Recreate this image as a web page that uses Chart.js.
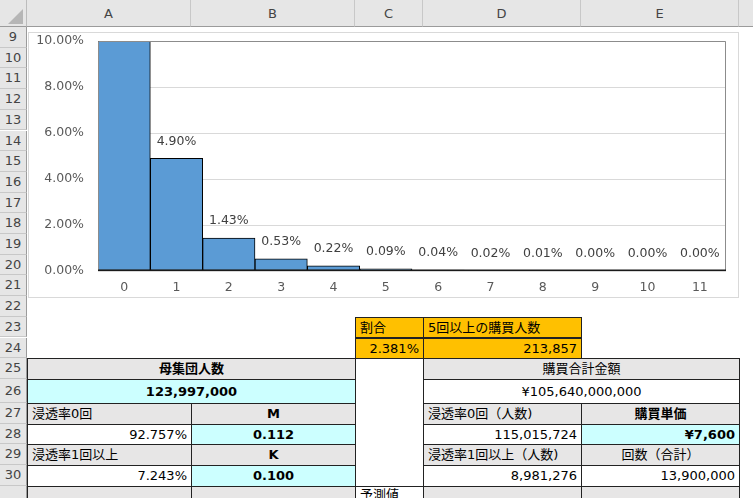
<!DOCTYPE html>
<html>
<head>
<meta charset="utf-8">
<script src="https://cdn.jsdelivr.net/npm/chart.js@4"></script>
<style>
body { margin:0; width:753px; height:498px; overflow:hidden; background:#fff;
       font-family:"DejaVu Sans","Noto Sans CJK JP",sans-serif; font-size:13px; color:#000; }
.c { position:absolute; box-sizing:border-box; white-space:nowrap; overflow:hidden; padding:0 4px; }
.hd { position:absolute; box-sizing:border-box; background:#e6e6e6; color:#444; text-align:center; font-size:13px; }
#chartBox { position:absolute; left:28px; top:32px; width:711px; height:266px; border:1px solid #d9d9d9; box-sizing:border-box; background:#fff; }
</style>
</head>
<body>
<div id="sheet"></div>
<div id="chartBox"><canvas id="chart" width="709" height="264"></canvas></div>
<script>
// chart data
var categories = ['0', '1', '2', '3', '4', '5', '6', '7', '8', '9', '10', '11']
var shares = [0.92757, 0.0490, 0.0143, 0.0053, 0.0022, 0.0009, 0.0004, 0.0002, 0.0001, 0.00004, 0.00002, 0.00001]
var yTicks = [0, 0.02, 0.04, 0.06, 0.08, 0.10]

// sheet layout
var colX = { A: 27, B: 191, C: 355, D: 423, E: 581, F: 739 }
var colLetters = ['A', 'B', 'C', 'D', 'E']
var firstRow = 9
var rowH = [20.7, 20.7, 20.7, 20.7, 20.7, 20.7, 20.7, 20.7, 20.7, 20.7, 20.7, 20.7, 20.7, 20.7, 20.7, 20.7, 20.7, 24, 20.7, 20.7, 20.7, 20.7, 40]
var grey = '#e7e6e6', cyan = '#ccffff', orange = '#ffc000'

// [fromCol, fromRow, toCol, toRow, text, align, fill, bold]
var cells = [
    ['C', 23, 'C', 23, '割合', 'left', orange],
    ['D', 23, 'D', 23, '5回以上の購買人数', 'left', orange],
    ['C', 24, 'C', 24, '2.381%', 'right', orange],
    ['D', 24, 'D', 24, '213,857', 'right', orange],
    ['A', 25, 'B', 25, '母集団人数', 'center', grey, true],
    ['C', 25, 'C', 30, '', 'center', '#fff'],
    ['D', 25, 'E', 25, '購買合計金額', 'center', grey],
    ['A', 26, 'B', 26, '123,997,000', 'center', cyan, true],
    ['D', 26, 'E', 26, '¥105,640,000,000', 'center', '#fff'],
    ['A', 27, 'A', 27, '浸透率0回', 'left', grey],
    ['B', 27, 'B', 27, 'M', 'center', grey, true],
    ['D', 27, 'D', 27, '浸透率0回（人数)', 'left', grey],
    ['E', 27, 'E', 27, '購買単価', 'center', grey, true],
    ['A', 28, 'A', 28, '92.757%', 'right', '#fff'],
    ['B', 28, 'B', 28, '0.112', 'center', cyan, true],
    ['D', 28, 'D', 28, '115,015,724', 'right', '#fff'],
    ['E', 28, 'E', 28, '¥7,600', 'right', cyan, true],
    ['A', 29, 'A', 29, '浸透率1回以上', 'left', grey],
    ['B', 29, 'B', 29, 'K', 'center', grey, true],
    ['D', 29, 'D', 29, '浸透率1回以上（人数)', 'left', grey],
    ['E', 29, 'E', 29, '回数（合計）', 'center', grey],
    ['A', 30, 'A', 30, '7.243%', 'right', '#fff'],
    ['B', 30, 'B', 30, '0.100', 'center', cyan, true],
    ['D', 30, 'D', 30, '8,981,276', 'right', '#fff'],
    ['E', 30, 'E', 30, '13,900,000', 'right', '#fff'],
    ['A', 31, 'A', 31, '', 'left', grey],
    ['B', 31, 'B', 31, '', 'left', grey],
    ['C', 31, 'C', 31, '予測値', 'left', '#fff'],
    ['D', 31, 'D', 31, '', 'left', grey],
    ['E', 31, 'E', 31, '', 'left', grey]
]

var nextCol = { A: 'B', B: 'C', C: 'D', D: 'E', E: 'F' }
function rowTop(r) {
    var y = 27
    for (var i = firstRow; i < r; i++) y += rowH[i - firstRow]
    return y
}

function buildSheet() {
    var sheet = document.getElementById('sheet')
    var html = ''
    // column headers
    html += '<div class="hd" style="left:0;top:0;width:27px;height:27px;border-right:1px solid #bcbcbc;border-bottom:1px solid #9b9b9b"></div>'
    html += '<div style="position:absolute;left:8px;top:9px;width:0;height:0;border-left:15px solid transparent;border-bottom:15px solid #b6b6b6"></div>'
    colLetters.forEach(function (l) {
        var x = colX[l], w = colX[nextCol[l]] - x
        html += '<div class="hd" style="left:' + x + 'px;top:0;width:' + w + 'px;height:27px;line-height:27px;border-right:1px solid #c8c8c8;border-bottom:1px solid #9b9b9b">' + l + '</div>'
    })
    html += '<div class="hd" style="left:739px;top:0;width:20px;height:27px;border-bottom:1px solid #9b9b9b"></div>'
    // row headers
    for (var r = firstRow; r < firstRow + rowH.length; r++) {
        var y = rowTop(r), h = rowH[r - firstRow]
        var lh = r === 31 ? 44 : h
        html += '<div class="hd" style="left:0;top:' + y + 'px;width:27px;height:' + h + 'px;line-height:' + lh + 'px;border-right:1px solid #9b9b9b;border-bottom:1px solid #c8c8c8">' + r + '</div>'
    }
    // cells
    cells.forEach(function (c) {
        var x1 = colX[c[0]], x2 = colX[nextCol[c[2]]]
        var y1 = rowTop(c[1]), y2 = rowTop(c[3] + 1)
        var lh = c[1] === 31 ? 16 : (y2 - y1 - 1)
        html += '<div class="c" style="left:' + x1 + 'px;top:' + y1 + 'px;width:' + (x2 - x1 + 1) + 'px;height:' + (y2 - y1 + 1) +
            'px;line-height:' + lh + 'px;border:1px solid #222;background:' + c[6] + ';text-align:' + c[5] +
            ';font-weight:' + (c[7] ? 'bold' : 'normal') + '">' + c[4] + '</div>'
    })
    sheet.innerHTML = html
}
buildSheet()

// draws the plot-area frame
var frame = {
    id: 'frame',
    afterDatasetsDraw: function (chart) {
        var a = chart.chartArea, ctx = chart.ctx
        ctx.save()
        ctx.strokeStyle = '#8c8c8c'
        ctx.lineWidth = 1
        ctx.beginPath()
        ctx.moveTo(a.left + 0.5, a.bottom)
        ctx.lineTo(a.left + 0.5, a.top + 0.5)
        ctx.lineTo(a.right - 0.5, a.top + 0.5)
        ctx.lineTo(a.right - 0.5, a.bottom)
        ctx.stroke()
        ctx.strokeStyle = '#1a1a1a'
        ctx.lineWidth = 1.5
        ctx.beginPath()
        ctx.moveTo(a.left, a.bottom - 0.75)
        ctx.lineTo(a.right, a.bottom - 0.75)
        ctx.stroke()
        ctx.restore()
    }
}

// value labels above bars (skipped when off the scale)
var valueLabels = {
    id: 'valueLabels',
    afterDatasetsDraw: function (chart) {
        var ctx = chart.ctx, meta = chart.getDatasetMeta(0), max = chart.scales.y.max
        ctx.save()
        ctx.font = '12.5px "DejaVu Sans"'
        ctx.fillStyle = '#404040'
        ctx.textAlign = 'center'
        ctx.textBaseline = 'middle'
        meta.data.forEach(function (bar, i) {
            var v = shares[i]
            if (v > max) return
            ctx.fillText((v * 100).toFixed(2) + '%', bar.x, bar.y - 17)
        })
        ctx.restore()
    }
}

function charts() {
    var ctx = document.getElementById('chart').getContext('2d')
    Chart.defaults.font.family = '"DejaVu Sans", sans-serif'
    Chart.defaults.font.size = 12.5
    Chart.defaults.color = '#595959'
    new Chart(ctx, {
        type: 'bar',
        data: {
            labels: categories,
            datasets: [{
                data: shares,
                backgroundColor: '#5b9bd5',
                borderColor: '#000000',
                borderWidth: 1,
                borderSkipped: false,
                barPercentage: 1,
                categoryPercentage: 1,
                clip: 0
            }]
        },
        options: {
            responsive: false,
            animation: false,
            layout: { padding: { left: 0, top: 8, right: 12, bottom: 0 } },
            plugins: { legend: { display: false }, tooltip: { enabled: false } },
            scales: {
                x: {
                    grid: { display: false, drawTicks: false },
                    border: { display: false },
                    ticks: { padding: 9, color: '#595959' },
                    afterFit: function (s) { s.height = 26; s.paddingLeft = 0; s.paddingRight = 0 }
                },
                y: {
                    min: 0,
                    max: 0.10,
                    afterBuildTicks: function (s) { s.ticks = yTicks.map(function (v) { return { value: v } }) },
                    grid: { color: '#d9d9d9', drawTicks: false },
                    border: { display: false },
                    ticks: {
                        padding: 14,
                        color: '#595959',
                        callback: function (v) { return (v * 100).toFixed(2) + '%' }
                    },
                    afterFit: function (s) { s.width = 69; s.paddingTop = 0; s.paddingBottom = 0 }
                }
            }
        },
        plugins: [frame, valueLabels]
    })
}
charts()
</script>
</body>
</html>
